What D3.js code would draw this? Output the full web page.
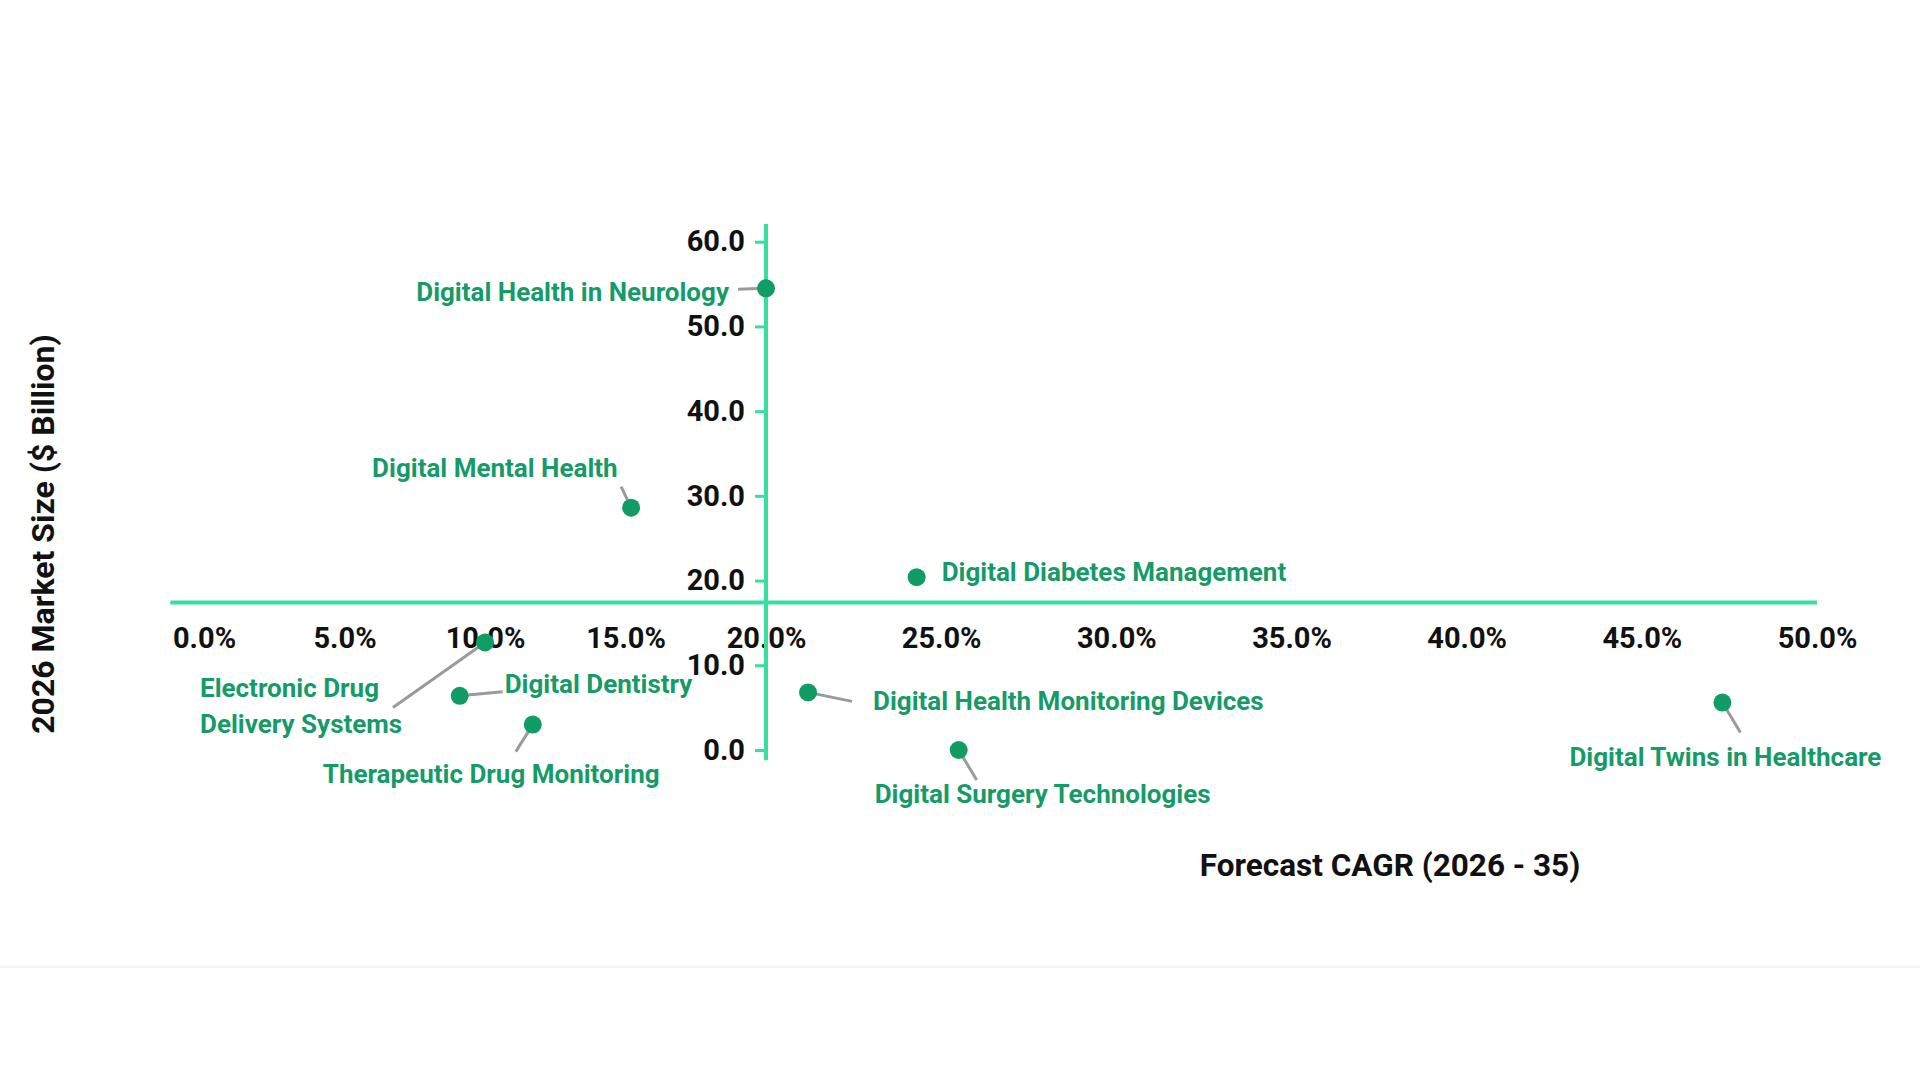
<!DOCTYPE html>
<html>
<head>
<meta charset="utf-8">
<script src="https://cdn.jsdelivr.net/npm/d3@7"></script>
<style>
    body { margin: 0; background: #fff; }
    svg { display: block; font-family: Roboto, 'Noto Sans', sans-serif; font-weight: 700; }
</style>
</head>
<body>
<svg width="1920" height="1080"></svg>
<script>

// data
const segments = [
    'Digital Health in Neurology',
    'Digital Mental Health',
    'Digital Diabetes Management',
    'Electronic Drug Delivery Systems',
    'Digital Dentistry',
    'Therapeutic Drug Monitoring',
    'Digital Health Monitoring Devices',
    'Digital Surgery Technologies',
    'Digital Twins in Healthcare'
];
const cagr = [20.0, 15.2, 24.3, 10.0, 9.1, 11.7, 21.2, 25.5, 47.3];
const marketSize = [54.5, 28.6, 20.4, 12.7, 6.4, 3.0, 6.8, 0.0, 5.6];
const xTicks = [0, 5, 10, 15, 20, 25, 30, 35, 40, 45, 50];
const yTicks = [0, 10, 20, 30, 40, 50, 60];

// where the two axes cross (quadrant chart)
const crossX = 20;
const crossY = 17.4;

// label placement, pixels relative to each point
const labelLayout = [
    { dx: -37, dy: 13, anchor: 'end', leader: [-28, 1] },
    { dx: -259, dy: -31, anchor: 'start', leader: [-10, -21] },
    { dx: 25, dy: 4, anchor: 'start', leader: null },
    { dx: -285, dy: 55, anchor: 'start', leader: [-92, 65], lines: ['Electronic Drug', 'Delivery Systems'] },
    { dx: 45, dy: -3, anchor: 'start', leader: [43, -4] },
    { dx: -210, dy: 58, anchor: 'start', leader: [-17, 27] },
    { dx: 65, dy: 18, anchor: 'start', leader: [44, 9] },
    { dx: -84, dy: 53, anchor: 'start', leader: [18, 30] },
    { dx: -153, dy: 63, anchor: 'start', leader: [18, 30] }
];

const data = segments.map((name, i) => ({ name, cagr: cagr[i], size: marketSize[i], layout: labelLayout[i] }));

const axisColor = '#36df9c';
const pointColor = '#119c66';
const labelColor = '#169b68';

const svg = d3.select('svg');

// scales: left and right of the crossing are stretched differently
const x = d3.scaleLinear().domain([0, crossX, 50]).range([204, 766, 1817]);
const y = d3.scaleLinear().domain([0, 60]).range([750, 241.7]);

// faint divider at the bottom
svg.append('line')
    .attr('x1', 0).attr('x2', 1920)
    .attr('y1', 967).attr('y2', 967)
    .style('stroke', '#f1f1f1')
    .style('stroke-width', 1.5);

// x axis
const xAxisG = svg.append('g')
    .attr('transform', `translate(0, ${y(crossY)})`)
    .call(d3.axisBottom(x).tickValues(xTicks).tickSize(0).tickPadding(25).tickFormat(d => d3.format('.1f')(d) + '%'));
xAxisG.select('.domain').remove();
xAxisG.append('line')
    .attr('x1', x(-1.2)).attr('x2', x(50))
    .style('stroke', axisColor)
    .style('stroke-width', 4);

// y axis
const yAxisG = svg.append('g')
    .attr('transform', `translate(${x(crossX)}, 0)`)
    .call(d3.axisLeft(y).tickValues(yTicks).tickSize(11).tickPadding(10).tickFormat(d3.format('.1f')));
yAxisG.select('.domain').remove();
yAxisG.selectAll('.tick line')
    .style('stroke', axisColor)
    .style('stroke-width', 3);
yAxisG.append('line')
    .attr('y1', y(-1.2)).attr('y2', y(62.1))
    .style('stroke', axisColor)
    .style('stroke-width', 4);

svg.selectAll('.tick text')
    .style('font-family', 'Roboto, sans-serif')
    .style('font-weight', 700)
    .style('font-size', '29px')
    .style('fill', '#111');

// axis titles
svg.append('text')
    .attr('x', 1390)
    .attr('y', 876)
    .style('text-anchor', 'middle')
    .style('font-size', '31.5px')
    .style('fill', '#111')
    .text('Forecast CAGR (2026 - 35)');

svg.append('text')
    .attr('transform', 'translate(54, 534) rotate(-90)')
    .style('text-anchor', 'middle')
    .style('font-size', '32px')
    .style('fill', '#111')
    .text('2026  Market Size ($ Billion)');

// points, leaders and labels
const pointG = svg.append('g')
    .selectAll('g')
    .data(data)
    .enter()
    .append('g')
    .attr('transform', d => `translate(${x(d.cagr)}, ${y(d.size)})`);

pointG.filter(d => d.layout.leader)
    .append('line')
    .attr('x1', 0).attr('y1', 0)
    .attr('x2', d => d.layout.leader[0])
    .attr('y2', d => d.layout.leader[1])
    .style('stroke', '#9a9a9a')
    .style('stroke-width', 3);

pointG.append('circle')
    .attr('r', 9)
    .style('fill', pointColor);

pointG.append('text')
    .attr('x', d => d.layout.dx)
    .attr('y', d => d.layout.dy)
    .style('text-anchor', d => d.layout.anchor)
    .style('font-size', '26px')
    .style('fill', labelColor)
    .selectAll('tspan')
    .data(d => (d.layout.lines || [d.name]).map(t => ({ t, dx: d.layout.dx })))
    .enter()
    .append('tspan')
    .attr('x', p => p.dx)
    .attr('dy', (p, i) => i ? 36 : 0)
    .text(p => p.t);

</script>
</body>
</html>
